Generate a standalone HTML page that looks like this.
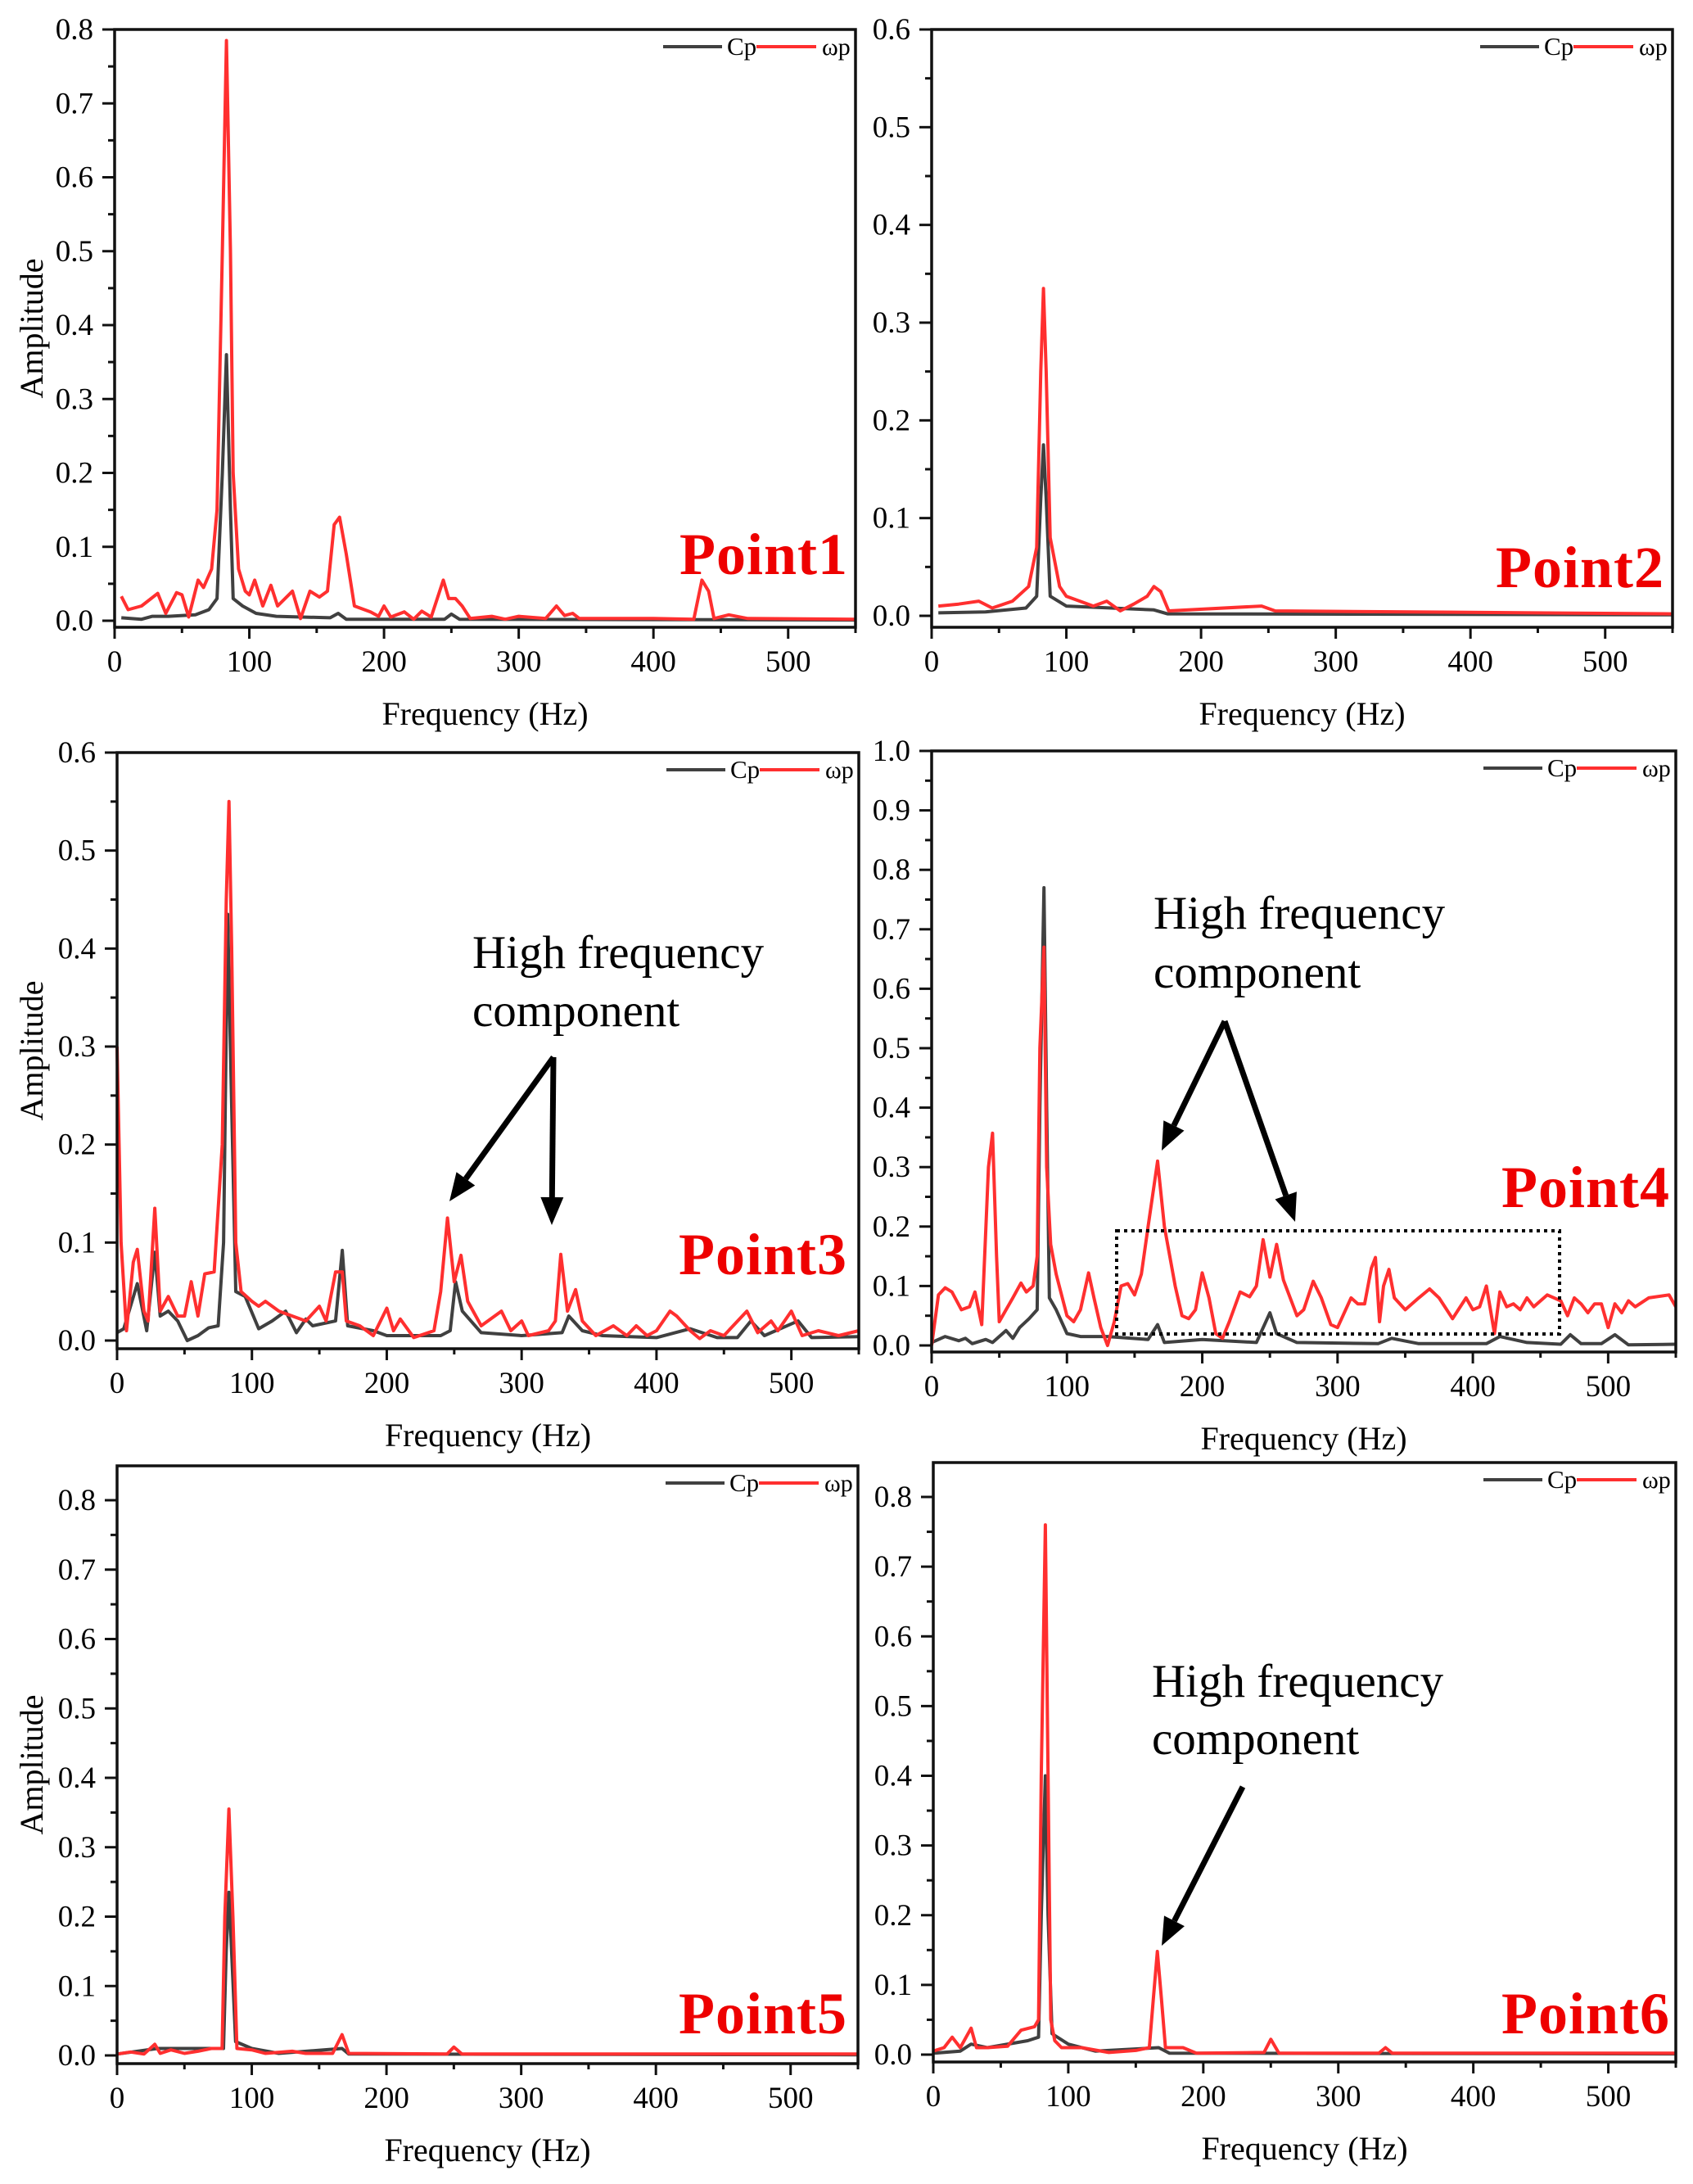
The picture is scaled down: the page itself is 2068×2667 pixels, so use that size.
<!DOCTYPE html>
<html><head><meta charset="utf-8">
<style>
html,body{margin:0;padding:0;background:#fff;}
svg{display:block;font-family:"Liberation Serif","Times New Roman",serif;}
svg text{font-family:"Liberation Serif","Times New Roman",serif;}
</style></head>
<body>
<svg id="s" width="2068" height="2667" xmlns="http://www.w3.org/2000/svg" font-family="Liberation Serif, serif"></svg>
<script>
const P=[
{L:140,R:1045,T:36,B:766,y0:758,tv:0.8,tp:36,max:0.8,lab:"Point1",px:830,py:701,amp:true,
 red:[[5,0.033],[10,0.015],[20,0.02],[32,0.037],[38,0.01],[46,0.038],[50,0.035],[55,0.005],[62,0.055],[66,0.045],[72,0.07],[76,0.15],[80,0.5],[83,0.785],[86,0.5],[88,0.2],[92,0.07],[97,0.04],[100,0.035],[104,0.055],[110,0.02],[116,0.048],[121,0.02],[132,0.04],[138,0.003],[145,0.04],[152,0.032],[158,0.04],[163,0.13],[167,0.14],[172,0.09],[178,0.02],[190,0.012],[196,0.006],[200,0.02],[205,0.005],[215,0.012],[222,0.002],[228,0.013],[235,0.005],[244,0.055],[248,0.03],[253,0.03],[258,0.02],[264,0.003],[280,0.006],[290,0.002],[300,0.006],[320,0.003],[328,0.02],[334,0.007],[340,0.01],[345,0.003],[400,0.003],[430,0.002],[436,0.055],[441,0.04],[445,0.003],[456,0.008],[470,0.003],[550,0.002]],
 blk:[[5,0.004],[20,0.002],[28,0.006],[40,0.006],[60,0.008],[70,0.015],[76,0.03],[80,0.2],[83,0.36],[86,0.15],[88,0.03],[95,0.02],[105,0.01],[120,0.006],[160,0.004],[166,0.01],[172,0.002],[245,0.002],[250,0.009],[256,0.002],[550,0.001]]},
{L:1138,R:2043,T:36,B:766,y0:752,tv:0.6,tp:36,max:0.6,lab:"Point2",px:1827,py:717,amp:false,
 red:[[5,0.01],[20,0.012],[35,0.015],[45,0.008],[60,0.015],[72,0.03],[78,0.07],[81,0.25],[83,0.335],[85,0.25],[88,0.08],[95,0.03],[100,0.02],[110,0.015],[120,0.01],[130,0.015],[140,0.005],[150,0.012],[160,0.02],[165,0.03],[170,0.025],[176,0.005],[245,0.01],[255,0.005],[550,0.002]],
 blk:[[5,0.003],[40,0.004],[70,0.008],[78,0.02],[81,0.12],[83,0.175],[85,0.12],[88,0.02],[100,0.01],[165,0.006],[175,0.002],[550,0.001]]},
{L:143,R:1049,T:919,B:1647,y0:1637,tv:0.6,tp:919,max:0.6,lab:"Point3",px:829,py:1556,amp:true,
 red:[[0,0.3],[3,0.1],[7,0.01],[12,0.08],[15,0.093],[20,0.03],[23,0.02],[28,0.135],[32,0.03],[38,0.045],[45,0.025],[50,0.025],[55,0.06],[60,0.025],[65,0.068],[72,0.07],[78,0.2],[81,0.45],[83,0.55],[85,0.4],[88,0.1],[92,0.05],[100,0.04],[105,0.035],[110,0.04],[120,0.03],[130,0.025],[140,0.02],[150,0.035],[155,0.02],[162,0.07],[167,0.07],[170,0.02],[180,0.015],[190,0.005],[200,0.033],[205,0.01],[210,0.022],[220,0.003],[235,0.01],[240,0.05],[245,0.125],[250,0.06],[255,0.087],[260,0.04],[270,0.015],[285,0.03],[292,0.01],[300,0.02],[305,0.005],[320,0.01],[325,0.02],[329,0.088],[334,0.03],[340,0.052],[345,0.02],[355,0.005],[368,0.015],[378,0.005],[385,0.015],[393,0.005],[400,0.01],[410,0.03],[415,0.025],[425,0.01],[432,0.002],[440,0.01],[450,0.005],[467,0.03],[475,0.008],[485,0.02],[490,0.01],[500,0.03],[508,0.005],[520,0.01],[535,0.005],[550,0.01]],
 blk:[[0,0.008],[5,0.012],[15,0.058],[22,0.01],[28,0.09],[32,0.025],[38,0.03],[45,0.02],[52,0.0],[60,0.005],[68,0.013],[75,0.015],[79,0.1],[82,0.435],[84,0.3],[88,0.05],[95,0.045],[105,0.012],[115,0.02],[125,0.03],[133,0.008],[140,0.022],[145,0.015],[162,0.02],[167,0.092],[171,0.015],[190,0.01],[200,0.005],[240,0.005],[247,0.01],[251,0.06],[256,0.03],[270,0.008],[300,0.005],[330,0.008],[335,0.025],[345,0.01],[360,0.005],[400,0.003],[425,0.012],[445,0.003],[460,0.003],[470,0.02],[480,0.005],[505,0.02],[515,0.003],[550,0.004]]},
{L:1138,R:2047,T:917,B:1651,y0:1643,tv:1.0,tp:917,max:1.0,lab:"Point4",px:1834,py:1474,amp:false,
 red:[[0,0.0],[5,0.085],[10,0.097],[15,0.09],[22,0.06],[28,0.065],[32,0.09],[37,0.035],[42,0.3],[45,0.357],[48,0.15],[50,0.04],[55,0.06],[60,0.08],[66,0.105],[70,0.09],[75,0.1],[78,0.15],[80,0.5],[83,0.67],[85,0.3],[88,0.17],[92,0.12],[100,0.05],[105,0.04],[110,0.06],[116,0.122],[120,0.08],[125,0.03],[130,0.0],[135,0.04],[140,0.1],[145,0.104],[150,0.085],[155,0.12],[160,0.2],[167,0.31],[172,0.2],[180,0.1],[185,0.05],[190,0.045],[195,0.06],[200,0.122],[205,0.08],[210,0.02],[215,0.012],[220,0.04],[228,0.09],[235,0.082],[240,0.1],[245,0.178],[250,0.115],[255,0.17],[260,0.11],[270,0.05],[275,0.06],[282,0.108],[288,0.08],[295,0.035],[300,0.03],[310,0.08],[315,0.07],[320,0.07],[325,0.13],[328,0.148],[331,0.04],[334,0.1],[338,0.128],[342,0.08],[350,0.06],[360,0.08],[368,0.095],[375,0.08],[385,0.045],[395,0.08],[400,0.06],[405,0.065],[410,0.1],[413,0.06],[416,0.02],[420,0.09],[425,0.065],[430,0.07],[435,0.06],[440,0.08],[445,0.065],[455,0.085],[465,0.075],[470,0.05],[475,0.08],[480,0.07],[485,0.055],[490,0.07],[495,0.07],[500,0.03],[505,0.07],[510,0.055],[515,0.075],[520,0.065],[530,0.08],[545,0.085],[550,0.065]],
 blk:[[0,0.005],[10,0.015],[20,0.008],[25,0.012],[30,0.003],[40,0.01],[45,0.005],[55,0.025],[60,0.012],[65,0.03],[72,0.045],[78,0.06],[80,0.4],[83,0.77],[85,0.4],[87,0.08],[92,0.06],[100,0.02],[110,0.015],[130,0.015],[160,0.01],[167,0.035],[172,0.005],[200,0.01],[240,0.005],[250,0.055],[255,0.02],[270,0.005],[330,0.003],[340,0.012],[360,0.003],[410,0.003],[420,0.015],[440,0.005],[465,0.002],[472,0.018],[480,0.003],[495,0.003],[505,0.018],[515,0.001],[550,0.002]]},
{L:143,R:1048,T:1790,B:2520,y0:2510,tv:0.8,tp:1832,max:0.8,lab:"Point5",px:829,py:2483,amp:true,
 red:[[0,0.002],[10,0.005],[20,0.002],[28,0.016],[32,0.003],[40,0.008],[50,0.003],[60,0.006],[70,0.01],[78,0.01],[80,0.2],[83,0.355],[86,0.2],[89,0.01],[100,0.008],[110,0.003],[130,0.006],[140,0.003],[160,0.003],[167,0.03],[172,0.003],[245,0.002],[250,0.012],[256,0.002],[550,0.002]],
 blk:[[0,0.002],[30,0.01],[70,0.01],[79,0.01],[81,0.15],[83,0.235],[85,0.15],[88,0.02],[100,0.01],[120,0.003],[167,0.01],[172,0.002],[550,0.001]]},
{L:1140,R:2047,T:1786,B:2518,y0:2509,tv:0.8,tp:1828,max:0.8,lab:"Point6",px:1834,py:2483,amp:false,
 red:[[0,0.005],[8,0.01],[14,0.025],[20,0.01],[28,0.038],[32,0.01],[40,0.01],[55,0.012],[65,0.035],[75,0.04],[78,0.05],[80,0.4],[83,0.76],[85,0.4],[87,0.05],[90,0.02],[95,0.01],[110,0.01],[130,0.003],[150,0.006],[160,0.01],[163,0.08],[166,0.148],[169,0.08],[172,0.01],[185,0.01],[195,0.002],[245,0.003],[250,0.022],[256,0.002],[330,0.002],[335,0.01],[340,0.002],[550,0.002]],
 blk:[[0,0.002],[20,0.005],[28,0.015],[40,0.01],[70,0.02],[78,0.025],[80,0.2],[83,0.4],[85,0.2],[88,0.03],[100,0.015],[120,0.005],[167,0.01],[175,0.002],[550,0.001]]}
];
const FF='font-family="Liberation Serif, serif"';
let h='';
for(const p of P){
  const X=f=>p.L+(f/550)*(p.R-p.L);
  const Y=v=>p.y0-(v/p.tv)*(p.y0-p.tp);
  const pts=a=>a.map(q=>X(q[0]).toFixed(1)+','+Y(q[1]).toFixed(1)).join(' ');
  h+=`<polyline points="${pts(p.blk)}" fill="none" stroke="#404040" stroke-width="4" stroke-linejoin="round"/>`;
  h+=`<polyline points="${pts(p.red)}" fill="none" stroke="#ff2f2f" stroke-width="4" stroke-linejoin="round"/>`;
  h+=`<rect x="${p.L}" y="${p.T}" width="${p.R-p.L}" height="${p.B-p.T}" fill="none" stroke="#111" stroke-width="3.5"/>`;
  for(let i=0;i<=Math.round(p.max*20);i++){
    const v=i*0.05, y=Y(v), maj=i%2==0;
    h+=`<line x1="${p.L-(maj?15:8)}" x2="${p.L}" y1="${y}" y2="${y}" stroke="#111" stroke-width="3"/>`;
    if(maj) h+=`<text ${FF} x="${p.L-26}" y="${y+12}" font-size="37" text-anchor="end">${v.toFixed(1)}</text>`;
  }
  for(let f=0;f<=550;f+=50){
    const x=X(f), maj=f%100==0;
    h+=`<line x1="${x}" x2="${x}" y1="${p.B}" y2="${p.B+(maj?14:7)}" stroke="#111" stroke-width="3"/>`;
    if(maj) h+=`<text ${FF} x="${x}" y="${p.B+54}" font-size="37" text-anchor="middle">${f}</text>`;
  }
  h+=`<text ${FF} x="${(p.L+p.R)/2}" y="${p.B+119}" font-size="40" text-anchor="middle">Frequency (Hz)</text>`;
  if(p.amp) h+=`<text ${FF} transform="translate(52,${(p.T+p.B)/2}) rotate(-90)" font-size="40" text-anchor="middle">Amplitude</text>`;
  const R=p.R, ly=p.T+21;
  h+=`<line x1="${R-235}" x2="${R-163}" y1="${ly}" y2="${ly}" stroke="#404040" stroke-width="4"/>`;
  h+=`<text ${FF} x="${R-157}" y="${ly+10}" font-size="31">Cp</text>`;
  h+=`<line x1="${R-121}" x2="${R-48}" y1="${ly}" y2="${ly}" stroke="#ff2f2f" stroke-width="4"/>`;
  h+=`<text ${FF} x="${R-41}" y="${ly+10}" font-size="30">ωp</text>`;
  h+=`<text ${FF} x="${p.px}" y="${p.py}" font-size="72" font-weight="bold" fill="#ee0000" textLength="205">${p.lab}</text>`;
}
function arrow(x1,y1,x2,y2){
  const a=Math.atan2(y2-y1,x2-x1), L=34, W=14;
  const bx=x2-L*Math.cos(a), by=y2-L*Math.sin(a);
  const px=-Math.sin(a)*W, py=Math.cos(a)*W;
  return `<line x1="${x1}" y1="${y1}" x2="${bx}" y2="${by}" stroke="#000" stroke-width="7"/>`+
   `<polygon points="${x2},${y2} ${bx+px},${by+py} ${bx-px},${by-py}" fill="#000"/>`;
}
function hf(x,y1,y2){return `<text ${FF} x="${x}" y="${y1}" font-size="57">High frequency</text><text ${FF} x="${x}" y="${y2}" font-size="57">component</text>`;}
h+=hf(577,1182,1253)+arrow(676,1291,549,1467)+arrow(676,1291,674,1496);
h+=hf(1409,1134,1206)+arrow(1496,1247,1419,1405)+arrow(1496,1247,1582,1492);
h+=`<rect x="1364" y="1503" width="541" height="126" fill="none" stroke="#000" stroke-width="4" stroke-dasharray="4,5"/>`;
h+=hf(1407,2072,2142)+arrow(1518,2182,1419,2376);
document.getElementById('s').innerHTML=h;
</script>
</body></html>
